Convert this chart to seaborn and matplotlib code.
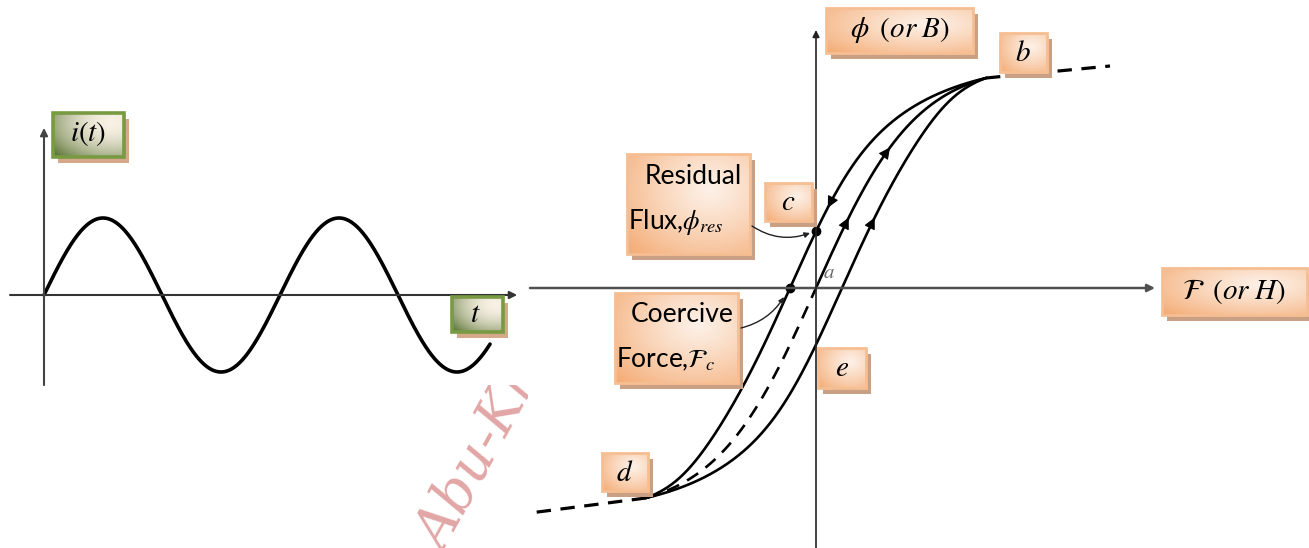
import numpy as np
import matplotlib
matplotlib.use("Agg")
import matplotlib.pyplot as plt
import matplotlib.colors as mcolors
from matplotlib.patches import Rectangle
import seaborn as sns

# --- left diagram: sinusoidal magnetising current i(t) ---
t_end = 1.89          # the wave stops just after the second trough (in periods)
i_amp = 1.0

# --- right diagram: hysteresis loop (1 unit = 100 px) ---
phi_sat = 2.10        # flux where the branches meet at b and d
phi_knee = 2.25       # asymptote used for the magnetisation curve shape
F_width = 1.01
F_coercive = 0.26
sat_right_F = [1.70, 2.94]   # dashed saturation line beyond b
sat_right_phi = [2.10, 2.22]
sat_left_F = [-1.70, -2.86]  # dashed saturation line beyond d
sat_left_phi = [-2.10, -2.25]

left_labels = ["$i(t)$", "$t$"]
right_labels = [r"$\phi\;\;(or\;B)$", "$b$", "$c$", "$d$", "$e$", r"$\mathcal{F}\;\;(or\;H)$"]
residual_text = ["Residual", r"Flux,$\phi_{res}$"]
coercive_text = ["Coercive", r"Force,$\mathcal{F}_c$"]

sns.set_theme(style="white")
plt.rcParams["font.family"] = ["Lato", "DejaVu Sans"]
plt.rcParams["mathtext.fontset"] = "stix"

W, H = 1309, 548
fig = plt.figure(figsize=(W / 100, H / 100), dpi=100)


def blank(ax):
    ax.set_xticks([])
    ax.set_yticks([])
    for s in ax.spines.values():
        s.set_visible(False)


# background axes for the watermark
axw = fig.add_axes([0, 0, 1, 1])
axw.set_xlim(0, W)
axw.set_ylim(H, 0)
blank(axw)
axw.set_zorder(0)
axw.text(445, 556, "Abu-Kh", rotation=61, rotation_mode="anchor", ha="left", va="baseline",
         fontsize=40, family="DejaVu Serif", style="italic", color="#E2A6A6")

# sine panel (white image area covering the watermark)
ax1 = fig.add_axes([0, (H - 385) / H, 528 / W, 385 / H])
ax1.set_zorder(1)
ax1.set_facecolor("white")
ax1.set_xlim((0 - 44) / 236, (528 - 44) / 236)
ax1.set_ylim((295 - 385) / 77, 295 / 77)
blank(ax1)

t = np.linspace(0, t_end, 500)
sns.lineplot(x=t, y=i_amp * np.sin(2 * np.pi * t), ax=ax1, color="black", lw=2.6,
             sort=False, estimator=None)
ax1.annotate("", xy=(2.005, 0), xytext=(-0.144, 0),
             arrowprops=dict(arrowstyle="-|>", lw=1.5, color="#333333", mutation_scale=11,
                             shrinkA=0, shrinkB=0))
ax1.annotate("", xy=(0, 2.17), xytext=(0, -1.17),
             arrowprops=dict(arrowstyle="-|>", lw=1.5, color="#444444", mutation_scale=11,
                             shrinkA=0, shrinkB=0))

# hysteresis panel
ax2 = fig.add_axes([528 / W, 0, (W - 528) / W, 1])
ax2.set_zorder(1)
ax2.set_facecolor("white")
ax2.set_xlim((528 - 816) / 100, (W - 816) / 100)
ax2.set_ylim((288 - H) / 100, 288 / 100)
blank(ax2)

ax2.annotate("", xy=(3.39, 0), xytext=(-2.86, 0),
             arrowprops=dict(arrowstyle="-|>", lw=1.8, color="#505050", mutation_scale=11,
                             shrinkA=0, shrinkB=0))
ax2.annotate("", xy=(0, 2.58), xytext=(0, -2.60),
             arrowprops=dict(arrowstyle="-|>", lw=1.2, color="#222222", mutation_scale=10,
                             shrinkA=0, shrinkB=0))

phi = np.linspace(-phi_sat, phi_sat, 600)
F_mid = F_width * np.arctanh(phi / phi_knee)
taper = 1 - (phi / phi_sat) ** 6
F_desc = F_mid - F_coercive * taper
F_asc = F_mid + F_coercive * taper

kw = dict(ax=ax2, color="black", lw=1.9, sort=False, estimator=None)
sns.lineplot(x=F_desc, y=phi, **kw)
sns.lineplot(x=F_asc, y=phi, **kw)
up = phi >= 0
sns.lineplot(x=F_mid[up], y=phi[up], **kw)
sns.lineplot(x=F_mid[~up], y=phi[~up], ax=ax2, color="black", lw=1.9, sort=False,
             estimator=None, linestyle=(0, (5, 3.5)))
sns.lineplot(x=sat_right_F, y=sat_right_phi, ax=ax2, color="black", lw=2.3, sort=False,
             estimator=None, linestyle=(0, (4.5, 3)))
sns.lineplot(x=sat_left_F, y=sat_left_phi, ax=ax2, color="black", lw=2.3, sort=False,
             estimator=None, linestyle=(0, (4.5, 3)))


def flow_arrow(Fc, ph, p0, direction):
    k = np.searchsorted(ph, p0)
    a, b = (k - 3, k) if direction > 0 else (k + 3, k)
    ax2.annotate("", xy=(Fc[b], ph[b]), xytext=(Fc[a], ph[a]),
                 arrowprops=dict(arrowstyle="-|>,head_length=0.5,head_width=0.25", lw=0.8,
                                 color="black", mutation_scale=14, shrinkA=0, shrinkB=0))


flow_arrow(F_desc, phi, 0.80, -1)
flow_arrow(F_mid, phi, 1.40, 1)
flow_arrow(F_mid, phi, 0.70, 1)
flow_arrow(F_asc, phi, 0.70, 1)

phi_c = np.interp(0.0, F_desc, phi)
ax2.plot([0, -F_coercive], [phi_c, 0], "o", color="black", ms=6)
ax2.text(0.07, 0.10, "$a$", fontsize=15, color="#666666")

# overlay for the labelled boxes
axo = fig.add_axes([0, 0, 1, 1])
axo.set_zorder(2)
axo.patch.set_visible(False)
blank(axo)


def gradient(c_dark, c_light, cx, cy, power, n=80):
    u, v = np.meshgrid(np.linspace(0, 1, n), np.linspace(0, 1, n))
    r = np.hypot(u - cx, v - cy) / np.hypot(max(cx, 1 - cx), max(cy, 1 - cy))
    r = np.clip(r, 0, 1) ** power
    d = np.array(mcolors.to_rgb(c_dark))
    l = np.array(mcolors.to_rgb(c_light))
    return l + (d - l) * r[..., None]


orange = gradient("#F4AA72", "#FDF0E6", 0.68, 0.35, 1.2)
green = gradient("#4E6A27", "#F8F1E4", 0.85, 0.2, 1.9)


def box(x0, y0, x1, y1, style="orange"):
    if style == "orange":
        img, edge, shadow, elw = orange, "#F6BE93", "#C9A084", 2.0
    else:
        img, edge, shadow, elw = green, "#789A42", "#D6A88A", 2.6
    axo.add_patch(Rectangle((x0 + 5, y0 + 6), x1 - x0, y1 - y0, color=shadow, lw=0, zorder=1))
    axo.imshow(img, extent=(x0, x1, y1, y0), aspect="auto", interpolation="bilinear", zorder=2)
    axo.add_patch(Rectangle((x0, y0), x1 - x0, y1 - y0, fill=False, ec=edge, lw=elw, zorder=3))


def label(x, y, s, size=21, ha="center"):
    axo.text(x, y, s, fontsize=size, ha=ha, va="center", zorder=4, color="black")


box(53, 113, 124, 157, "green")
label(88, 134, left_labels[0])
box(452, 297, 503, 332, "green")
label(475, 314, left_labels[1])

box(826, 8, 973, 53)
label(900, 30, right_labels[0])
box(1000, 33, 1047, 72)
label(1023, 53, right_labels[1])
box(765, 183, 812, 221)
label(788, 202, right_labels[2])
box(602, 453, 648, 491)
label(625, 473, right_labels[3])
box(818, 348, 866, 388)
label(842, 368, right_labels[4])
box(1162, 268, 1307, 315)
label(1234, 291, right_labels[5])

box(627, 154, 750, 254)
label(742, 176, residual_text[0], 19, "right")
label(628, 222, residual_text[1], 19, "left")
box(615, 293, 738, 383)
label(734, 315, coercive_text[0], 19, "right")
label(616, 359, coercive_text[1], 19, "left")

axo.set_xlim(0, W)
axo.set_ylim(H, 0)

# pointers from the text boxes to the marked points
axo.annotate("", xy=(810, 233), xytext=(752, 226),
             arrowprops=dict(arrowstyle="-|>", lw=1.0, color="#222222", mutation_scale=8,
                             connectionstyle="arc3,rad=0.25", shrinkA=0, shrinkB=0))
axo.annotate("", xy=(784, 297), xytext=(741, 328),
             arrowprops=dict(arrowstyle="-|>", lw=1.0, color="#222222", mutation_scale=8,
                             connectionstyle="arc3,rad=0.2", shrinkA=0, shrinkB=0))

fig.savefig("out.png", dpi=100)
